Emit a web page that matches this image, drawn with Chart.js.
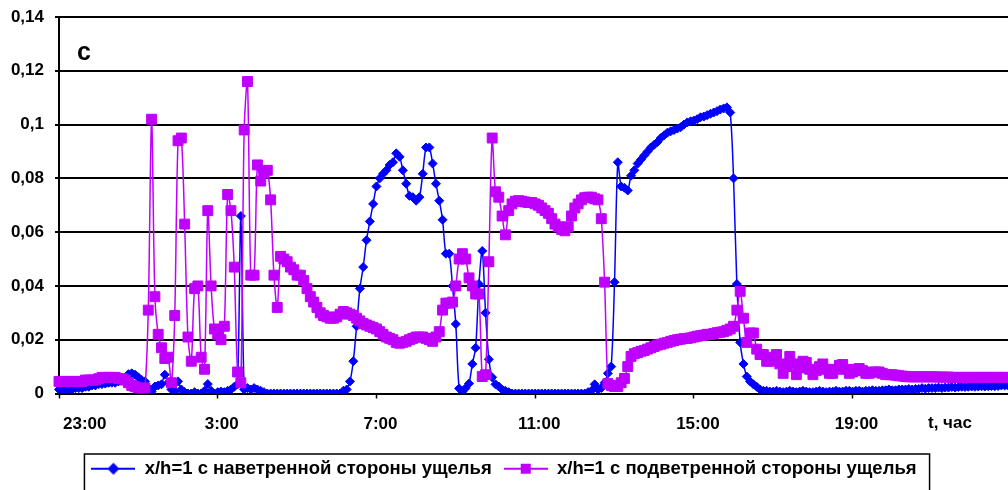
<!DOCTYPE html>
<html>
<head>
<meta charset="utf-8">
<script src="https://cdn.jsdelivr.net/npm/chart.js@4.4.0/dist/chart.umd.min.js"></script>
<style>
  html, body { margin: 0; padding: 0; background: #fff; }
  #wrap { width: 1008px; height: 490px; position: relative; }
</style>
</head>
<body>
<div id="wrap"><canvas id="chart"></canvas></div>
<script>
// readings every 5 minutes, 23:00 .. 22:55 next day (one row = one hour)
const tickLabels = ['23:00', '3:00', '7:00', '11:00', '15:00', '19:00'];
const seriesNames = ['x/h=1 с наветренной стороны ущелья', 'x/h=1 с подветренной стороны ущелья'];
const panelLetter = 'c';
const axisTitle = 't, час';

const windward = [
  0.0015,0.0015,0.0015,0.0015,0.0015,0.002,0.002,0.002,0.0025,0.0025,0.003,0.003,
  0.0035,0.0035,0.0037,0.004,0.004,0.004,0.0045,0.005,0.006,0.0072,0.0075,0.007,
  0.006,0.005,0.0045,0.002,0.0007,0.0026,0.003,0.0034,0.007,0.004,0.0015,0.0007,
  0.0045,0.0015,0.0005,0,0,0.0005,0,0,0.001,0.0035,0.001,0,
  0.0005,0.0007,0.0005,0.001,0.0015,0.0025,0.0034,0.066,0.0015,0.002,0.0015,0.002,
  0.0015,0.001,0.0005,0,0,0,0,0,0,0,0,0,
  0,0,0,0,0,0,0,0,0,0,0,0,
  0,0,0.001,0.0015,0.0045,0.012,0.025,0.039,0.047,0.057,0.064,0.0705,
  0.077,0.080,0.0817,0.083,0.085,0.086,0.0893,0.088,0.083,0.078,0.0735,0.073,
  0.0717,0.073,0.0817,0.0915,0.0915,0.0855,0.078,0.0717,0.0646,0.052,0.052,0.040,
  0.0258,0.0019,0.0007,0.002,0.0037,0.011,0.017,0.0407,0.053,0.030,0.0127,0.006,
  0.0034,0.0026,0.0015,0.001,0.0005,0,0,0,0,0,0,0,
  0,0,0,0,0,0,0,0,0,0,0,0,
  0,0,0,0,0.0005,0.001,0.0034,0.0015,0.002,0.004,0.0075,0.010,
  0.0414,0.086,0.077,0.0765,0.0755,0.081,0.083,0.0855,0.087,0.0885,0.090,0.0915,
  0.0925,0.0935,0.095,0.096,0.097,0.0975,0.098,0.0985,0.099,0.100,0.1008,0.1012,
  0.1015,0.102,0.1027,0.103,0.1035,0.104,0.1045,0.105,0.1056,0.106,0.1064,0.1045,
  0.080,0.0407,0.019,0.011,0.0063,0.0045,0.0034,0.0025,0.0015,0.001,0.001,0.0007,
  0.0007,0.001,0.0007,0.0005,0.0007,0.001,0.0007,0.0005,0.0007,0.001,0.0007,0.0005,
  0.0005,0.0007,0.001,0.0007,0.0005,0.0007,0.0007,0.001,0.0007,0.0007,0.001,0.001,
  0.0007,0.001,0.001,0.0007,0.001,0.001,0.0012,0.001,0.001,0.0012,0.0012,0.0015,
  0.0012,0.0012,0.0015,0.0015,0.0015,0.0017,0.0015,0.0017,0.0017,0.002,0.0018,0.002,
  0.002,0.002,0.0022,0.002,0.0022,0.0022,0.0024,0.0022,0.0024,0.0025,0.0024,0.0025,
  0.0026,0.0025,0.0026,0.0027,0.0026,0.0027,0.0028,0.0027,0.0028,0.003,0.003,0.003
];

const leeward = [
  0.0045,0.0045,0.0045,0.0045,0.0045,0.0045,0.0045,0.0045,0.005,0.005,0.005,0.005,
  0.0055,0.006,0.006,0.006,0.006,0.006,0.0055,0.0055,0.005,0.004,0.003,0.0025,
  0.002,0.002,0.002,0.031,0.102,0.036,0.022,0.017,0.013,0.0135,0.004,0.029,
  0.094,0.095,0.063,0.021,0.012,0.039,0.040,0.0135,0.009,0.068,0.040,0.024,
  0.022,0.020,0.025,0.074,0.068,0.047,0.008,0.004,0.098,0.116,0.044,0.044,
  0.085,0.079,0.082,0.083,0.072,0.044,0.032,0.051,0.050,0.049,0.047,0.046,
  0.044,0.044,0.042,0.039,0.036,0.034,0.032,0.030,0.029,0.0285,0.028,0.028,
  0.0285,0.0295,0.0305,0.030,0.0295,0.029,0.028,0.027,0.026,0.0255,0.025,0.0245,
  0.024,0.023,0.022,0.021,0.0205,0.020,0.019,0.0187,0.019,0.0194,0.020,0.0205,
  0.021,0.021,0.021,0.0205,0.020,0.0194,0.021,0.023,0.031,0.0336,0.0336,0.034,
  0.040,0.050,0.052,0.050,0.043,0.040,0.037,0.037,0.0063,0.007,0.049,0.095,
  0.075,0.073,0.066,0.059,0.068,0.0705,0.0715,0.0717,0.0715,0.0712,0.071,0.071,
  0.0705,0.070,0.069,0.068,0.067,0.065,0.063,0.062,0.061,0.0605,0.062,0.066,
  0.069,0.0705,0.072,0.0728,0.073,0.073,0.0724,0.072,0.065,0.0414,0.0037,0.003,
  0.0026,0.0026,0.004,0.0056,0.010,0.0138,0.0148,0.0152,0.0157,0.016,0.0165,0.017,
  0.0175,0.018,0.0183,0.0187,0.019,0.0194,0.0197,0.020,0.0202,0.0204,0.0205,0.0207,
  0.021,0.0213,0.0215,0.0217,0.022,0.022,0.0223,0.0226,0.0228,0.023,0.0235,0.024,
  0.025,0.031,0.038,0.028,0.019,0.0225,0.0225,0.0165,0.0145,0.0145,0.012,0.012,
  0.0135,0.0145,0.011,0.0075,0.010,0.0138,0.011,0.007,0.0095,0.012,0.0115,0.009,
  0.007,0.0085,0.010,0.011,0.009,0.0075,0.0075,0.009,0.0105,0.0108,0.009,0.0075,
  0.008,0.009,0.0093,0.0085,0.0075,0.0075,0.008,0.008,0.008,0.0075,0.007,0.007,
  0.007,0.0068,0.0066,0.0065,0.0063,0.0062,0.0062,0.0062,0.0062,0.0062,0.0062,0.0062,
  0.0062,0.0062,0.0061,0.0061,0.0061,0.0061,0.006,0.006,0.006,0.006,0.006,0.006,
  0.006,0.006,0.006,0.006,0.006,0.006,0.006,0.006,0.006,0.006,0.006,0.006
];

// category labels: clock time of each reading
const times = [];
for (let i = 0; i < windward.length; i++) {
  const m = (23 * 60 + i * 5) % 1440;
  times.push(Math.floor(m / 60) + ':' + String(m % 60).padStart(2, '0'));
}

const BLUE = '#0000FF';
const VIOLET = '#BF00FF';
const FONT = '"Liberation Sans", Arial, sans-serif';

// legend sample: short line with the marker in the middle
function legendIcon(color, shape) {
  const c = document.createElement('canvas');
  c.width = 44; c.height = 14;
  const g = c.getContext('2d');
  g.strokeStyle = color; g.lineWidth = 2;
  g.beginPath(); g.moveTo(0, 7); g.lineTo(44, 7); g.stroke();
  g.fillStyle = color;
  g.beginPath();
  if (shape === 'diamond') {
    g.moveTo(22, 1); g.lineTo(28, 7); g.lineTo(22, 13); g.lineTo(16, 7); g.closePath();
  } else {
    g.rect(17, 2, 10, 10);
  }
  g.fill();
  return c;
}
const icons = [legendIcon(BLUE, 'diamond'), legendIcon(VIOLET, 'square')];

const extras = {
  id: 'extras',
  afterDraw(chart) {
    const ctx = chart.ctx;
    ctx.save();
    ctx.fillStyle = '#000';
    ctx.textBaseline = 'middle';
    ctx.font = 'bold 25px ' + FONT;
    ctx.fillText(panelLetter, 77, 53);
    ctx.font = 'bold 17px ' + FONT;
    ctx.fillText(axisTitle, 928, 423);

    // frame round the legend (runs off the bottom edge like the original)
    const hb = chart.legend.legendHitBoxes;
    if (hb && hb.length) {
      const first = hb[0], last = hb[hb.length - 1];
      const left = first.left - 7;
      const right = last.left + last.width + 13;
      ctx.strokeStyle = '#000';
      ctx.lineWidth = 1.5;
      ctx.strokeRect(left, 454, right - left, 60);
    }
    ctx.restore();
  }
};

new Chart(document.getElementById('chart'), {
  type: 'line',
  data: {
    labels: times,
    datasets: [
      {
        label: seriesNames[0],
        data: windward,
        borderColor: BLUE,
        backgroundColor: BLUE,
        borderWidth: 1.5,
        pointStyle: 'rectRot',
        pointRadius: 4.5,
        pointBorderWidth: 1,
        pointBackgroundColor: BLUE,
        pointBorderColor: BLUE,
        tension: 0.3,
        order: 1
      },
      {
        label: seriesNames[1],
        data: leeward,
        borderColor: VIOLET,
        backgroundColor: VIOLET,
        borderWidth: 1.5,
        pointStyle: 'rect',
        pointRadius: 7,
        pointBorderWidth: 1,
        pointBackgroundColor: VIOLET,
        pointBorderColor: VIOLET,
        tension: 0.3,
        order: 0
      }
    ]
  },
  options: {
    responsive: true,
    maintainAspectRatio: false,
    animation: false,
    events: [],
    layout: { autoPadding: false, padding: { top: 17, right: 0, bottom: 2, left: 0 } },
    plugins: {
      tooltip: { enabled: false },
      legend: {
        position: 'bottom',
        labels: {
          usePointStyle: true,
          pointStyleWidth: 44,
          padding: 12,
          color: '#000',
          font: { family: FONT, size: 18.5, weight: 'bold' },
          generateLabels: (chart) => chart.data.datasets.map((ds, i) => ({
            text: ds.label,
            pointStyle: icons[i],
            fillStyle: ds.borderColor,
            strokeStyle: ds.borderColor,
            lineWidth: 0,
            fontColor: '#000',
            hidden: false,
            datasetIndex: i
          }))
        }
      }
    },
    scales: {
      x: {
        type: 'category',
        afterFit: (scale) => {
          scale.height = 54;
          scale.paddingLeft = 0;
          scale.paddingRight = 0;
        },
        grid: {
          display: true,
          drawOnChartArea: false,
          tickLength: 5,
          tickWidth: 1.5,
          tickColor: (c) => tickLabels.includes(times[c.index]) ? '#000' : 'rgba(0,0,0,0)'
        },
        border: { display: true, color: '#000', width: 2 },
        ticks: {
          autoSkip: false,
          maxRotation: 0,
          minRotation: 0,
          align: 'inner',
          labelOffset: 4,
          padding: 16,
          color: '#000',
          font: { family: FONT, size: 17, weight: 'bold' },
          callback: function (value, index) {
            const t = times[index];
            return tickLabels.includes(t) ? t : '';
          }
        }
      },
      y: {
        min: 0,
        max: 0.14,
        afterFit: (scale) => {
          scale.width = 59;
          scale.paddingTop = 0;
          scale.paddingBottom = 0;
        },
        grid: { color: '#000', lineWidth: 2, tickLength: 4 },
        border: { display: true, color: '#000', width: 2 },
        ticks: {
          stepSize: 0.02,
          padding: 11,
          color: '#000',
          font: { family: FONT, size: 17, weight: 'bold' },
          callback: (v) => String(Math.round(v * 100) / 100).replace('.', ',')
        }
      }
    }
  },
  plugins: [extras]
});
</script>
</body>
</html>
